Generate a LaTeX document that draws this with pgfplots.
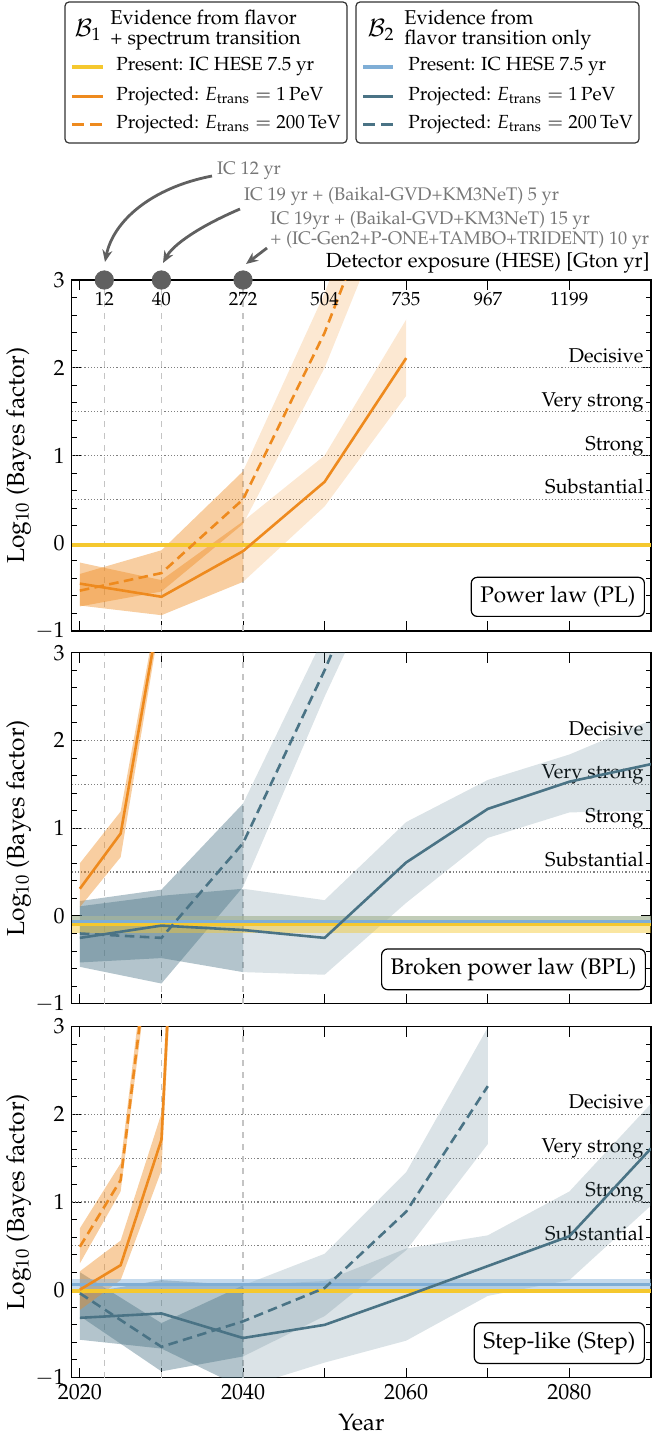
\documentclass[border=0pt]{standalone}
\usepackage[T1]{fontenc}
\usepackage{mathpazo}
\usepackage{pgfplots}
\pgfplotsset{compat=1.18}
\usetikzlibrary{arrows.meta}
\definecolor{orangeC}{HTML}{EE8A1E}
\definecolor{blueC}{HTML}{4A7385}
\definecolor{yellowC}{HTML}{F5C82E}
\definecolor{lblueC}{HTML}{7FAED6}
\definecolor{annC}{HTML}{777777}
\definecolor{circC}{HTML}{606060}
\definecolor{dotC}{HTML}{808080}
\definecolor{vC}{HTML}{C4C4C4}
\newcommand{\legfont}{\fontsize{9.5}{11}\selectfont}
\newcommand{\hdrfont}{\fontsize{10}{12}\selectfont}
\newcommand{\annfont}{\fontsize{9.12}{11}\selectfont}
\newcommand{\evfont}{\fontsize{10}{12}\selectfont}
\tikzset{
  ev/.style={anchor=base east, inner sep=0pt, xshift=-3.5pt, yshift=2.7pt, font=\evfont},
  plab/.style={draw, rounded corners=3pt, fill=white, inner sep=4.5pt, anchor=south east, font=\fontsize{11.3}{13}\selectfont, line width=0.6pt},
}
\pgfplotsset{
  panel/.style={
    width=289.65pt, height=175.5pt, scale only axis,
    xmin=2019, xmax=2090, ymin=-1, ymax=3,
    xtick={2020,2030,...,2090},
    ytick={-1,0,1,2,3},
    minor y tick num=4,
    tick align=inside,
    major tick length=5pt, minor tick length=2.5pt,
    tick style={line width=0.5pt, black},
    tick label style={font=\fontsize{11}{13}\selectfont},
    ylabel={Log$_{10}$ (Bayes factor)},
    ylabel style={font=\fontsize{12.3}{14}\selectfont, at={(axis description cs:-0.0915,0.5)}, anchor=center},
    axis line style={line width=0.6pt},
    clip=true,
  },
  band1/.style={draw=none, fill=#1, fill opacity=0.42},
  band2/.style={draw=none, fill=#1, fill opacity=0.2},
  ln/.style={#1, line width=1.3pt},
  dl/.style={#1, line width=1.3pt, dash pattern=on 4.8pt off 2.7pt},
}
\newcommand{\guides}{%
  \node[ev] at (axis cs:2090,2) {Decisive};
  \node[ev] at (axis cs:2090,1.5) {Very strong};
  \node[ev] at (axis cs:2090,1) {Strong};
  \node[ev] at (axis cs:2090,0.5) {Substantial};
  \addplot[dotC, densely dotted, line width=0.6pt] coordinates {(2019,2)(2090,2)};
  \addplot[dotC, densely dotted, line width=0.6pt] coordinates {(2019,1.5)(2090,1.5)};
  \addplot[dotC, densely dotted, line width=0.6pt] coordinates {(2019,1)(2090,1)};
  \addplot[dotC, densely dotted, line width=0.6pt] coordinates {(2019,0.5)(2090,0.5)};
  \addplot[vC, dashed, line width=0.6pt] coordinates {(2023,-1)(2023,3)};
  \addplot[vC, dashed, line width=0.6pt] coordinates {(2030,-1)(2030,3)};
  \addplot[vC, dashed, line width=0.6pt] coordinates {(2040,-1)(2040,3)};
}
\begin{document}
\begin{tikzpicture}
% ---------------- Panel 1: PL ----------------
\begin{axis}[panel, at={(0pt,0pt)}, anchor=north west, xticklabels={}]
\guides
\addplot[band1=orangeC] coordinates {(2020,-0.22)(2030,-0.42)(2040,0.25)(2040,-0.44)(2030,-0.82)(2020,-0.71)} -- cycle;
\addplot[band2=orangeC] coordinates {(2040,0.25)(2050,1.0)(2060,2.55)(2060,1.68)(2050,0.42)(2040,-0.44)} -- cycle;
\addplot[band1=orangeC] coordinates {(2020,-0.35)(2030,-0.08)(2040,0.82)(2040,0.22)(2030,-0.55)(2020,-0.72)} -- cycle;
\addplot[band2=orangeC] coordinates {(2040,0.82)(2050,2.85)(2060,5.3)(2060,4.3)(2050,2.0)(2040,0.22)} -- cycle;
\addplot[yellowC, line width=2.4pt] coordinates {(2019,-0.02)(2090,-0.02)};
\addplot[ln=orangeC] coordinates {(2020,-0.46)(2030,-0.61)(2040,-0.09)(2050,0.70)(2060,2.11)};
\addplot[dl=orangeC] coordinates {(2020,-0.54)(2030,-0.34)(2040,0.50)(2050,2.4)(2060,4.8)};
\node[plab, xshift=-3pt, yshift=7pt] at (rel axis cs:1,0) {Power law (PL)};
\end{axis}
% overlay for exposure axis
\begin{axis}[width=289.65pt, height=175.5pt, scale only axis, at={(0pt,0pt)}, anchor=north west,
  xmin=2019, xmax=2090, ymin=-1, ymax=3, hide axis, clip=false]
\addplot[only marks, mark=*, mark size=4.6pt, circC] coordinates {(2023,3)(2030,3)(2040,3)};
\node[font=\fontsize{9.5}{11}\selectfont, yshift=-9.5pt] at (axis cs:2023,3) {12};
\node[font=\fontsize{9.5}{11}\selectfont, yshift=-9.5pt] at (axis cs:2030,3) {40};
\node[font=\fontsize{9.5}{11}\selectfont, yshift=-9.5pt] at (axis cs:2040,3) {272};
\node[font=\fontsize{9.5}{11}\selectfont, yshift=-9.5pt] at (axis cs:2050,3) {504};
\node[font=\fontsize{9.5}{11}\selectfont, yshift=-9.5pt] at (axis cs:2060,3) {735};
\node[font=\fontsize{9.5}{11}\selectfont, yshift=-9.5pt] at (axis cs:2070,3) {967};
\node[font=\fontsize{9.5}{11}\selectfont, yshift=-9.5pt] at (axis cs:2080,3) {1199};
\node[anchor=east, inner sep=0pt, font=\fontsize{10.2}{12}\selectfont, yshift=8.5pt, xshift=-0.5pt] at (rel axis cs:1,1) {Detector exposure (HESE) [Gton yr]};
\end{axis}
% ---------------- Panel 2: BPL ----------------
\begin{axis}[panel, at={(0pt,-186.35pt)}, anchor=north west, xticklabels={}]
\guides
\addplot[band1=blueC] coordinates {(2020,0.11)(2030,0.23)(2040,0.31)(2040,-0.64)(2030,-0.48)(2020,-0.53)} -- cycle;
\addplot[band2=blueC] coordinates {(2040,0.31)(2050,0.18)(2060,1.07)(2070,1.55)(2080,1.84)(2090,2.23)(2090,1.20)(2080,1.18)(2070,0.89)(2060,0.15)(2050,-0.67)(2040,-0.64)} -- cycle;
\addplot[band1=blueC] coordinates {(2020,0.17)(2030,0.30)(2040,1.28)(2040,0.33)(2030,-0.77)(2020,-0.58)} -- cycle;
\addplot[band2=blueC] coordinates {(2040,1.28)(2050,3.2)(2060,5.5)(2060,4.5)(2050,2.5)(2040,0.33)} -- cycle;
\addplot[band1=orangeC] coordinates {(2020,0.60)(2025,1.19)(2030,3.75)(2030,3.45)(2025,0.67)(2020,0.10)} -- cycle;
\addplot[draw=none, fill=yellowC, fill opacity=0.45] coordinates {(2019,0.0)(2090,0.0)(2090,-0.19)(2019,-0.19)} -- cycle;
\addplot[draw=none, fill=lblueC, fill opacity=0.45] coordinates {(2019,0.0)(2090,0.0)(2090,-0.10)(2019,-0.10)} -- cycle;
\addplot[yellowC, line width=1.6pt] coordinates {(2019,-0.10)(2090,-0.10)};
\addplot[lblueC, line width=1.6pt] coordinates {(2019,-0.065)(2090,-0.065)};
\addplot[ln=blueC] coordinates {(2020,-0.25)(2030,-0.11)(2040,-0.16)(2050,-0.25)(2060,0.61)(2070,1.22)(2080,1.53)(2090,1.73)};
\addplot[dl=blueC] coordinates {(2020,-0.20)(2030,-0.25)(2040,0.83)(2050,2.8)(2060,5.0)};
\addplot[ln=orangeC] coordinates {(2020,0.31)(2025,0.94)(2030,3.6)};
\node[plab, xshift=-2.5pt, yshift=6.7pt] at (rel axis cs:1,0) {Broken power law (BPL)};
\end{axis}
% ---------------- Panel 3: Step ----------------
\begin{axis}[panel, at={(0pt,-373.25pt)}, anchor=north west,
  xticklabels={2020,{},2040,{},2060,{},2080,{}},
  xlabel={Year},
  xlabel style={font=\fontsize{11.8}{14}\selectfont, at={(axis description cs:0.5,0)}, anchor=center, yshift=-22.7pt}]
\guides
\addplot[band1=blueC] coordinates {(2020,-0.05)(2030,0.11)(2040,0.05)(2040,-1.12)(2030,-0.67)(2020,-0.57)} -- cycle;
\addplot[band2=blueC] coordinates {(2040,0.05)(2050,0.10)(2060,0.47)(2070,0.62)(2080,1.12)(2090,2.12)(2090,0.96)(2080,0.11)(2070,-0.07)(2060,-0.58)(2050,-0.83)(2040,-1.12)} -- cycle;
\addplot[band1=blueC] coordinates {(2020,0.20)(2030,-0.38)(2040,0.05)(2040,-0.76)(2030,-0.93)(2020,-0.30)} -- cycle;
\addplot[band2=blueC] coordinates {(2040,0.05)(2050,0.41)(2060,1.34)(2070,2.99)(2070,1.66)(2060,0.45)(2050,-0.30)(2040,-0.76)} -- cycle;
\addplot[band1=orangeC] coordinates {(2020,0.21)(2025,0.56)(2030,2.01)(2032,5.9)(2032,5.0)(2030,1.36)(2025,0.11)(2020,-0.23)} -- cycle;
\addplot[band1=orangeC] coordinates {(2020,0.70)(2025,1.44)(2030,5.3)(2030,4.8)(2025,1.12)(2020,0.30)} -- cycle;
\addplot[draw=none, fill=lblueC, fill opacity=0.45] coordinates {(2019,0.12)(2090,0.12)(2090,0.01)(2019,0.01)} -- cycle;
\addplot[lblueC, line width=1.6pt] coordinates {(2019,0.06)(2090,0.06)};
\addplot[yellowC, line width=2.2pt] coordinates {(2019,-0.015)(2090,-0.015)};
\addplot[ln=blueC] coordinates {(2020,-0.32)(2030,-0.27)(2040,-0.55)(2050,-0.40)(2060,-0.07)(2070,0.27)(2080,0.61)(2090,1.61)};
\addplot[dl=blueC] coordinates {(2020,-0.04)(2030,-0.65)(2040,-0.36)(2050,0.02)(2060,0.89)(2070,2.32)};
\addplot[ln=orangeC] coordinates {(2020,0.0)(2025,0.28)(2030,1.71)(2032,5.4)};
\addplot[dl=orangeC] coordinates {(2020,0.49)(2025,1.25)(2030,5.05)};
\node[plab, xshift=-3pt, yshift=6.75pt] at (rel axis cs:1,0) {Step-like (Step)};
\end{axis}
% ---------------- legends and annotations (pixel frame) ----------------
\begin{scope}[shift={(-35.85pt,140pt)}, x=0.5pt, y=-0.5pt]
\draw[rounded corners=2pt, line width=0.6pt, black!80] (65,2) rectangle (347,143);
\node[font=\fontsize{12}{14}\selectfont] at (88,30) {$\mathcal{B}_1$};
\node[anchor=west, inner sep=0pt, font=\hdrfont] at (110,17) {Evidence from flavor};
\node[anchor=west, inner sep=0pt, font=\hdrfont] at (110,40) {+ spectrum transition};
\draw[yellowC, line width=2pt] (72,67) -- (103,67);
\draw[orangeC, line width=1.5pt] (72,96) -- (103,96);
\draw[orangeC, line width=1.5pt, dash pattern=on 6pt off 3pt] (72,124) -- (103,124);
\node[anchor=west, inner sep=0pt, font=\legfont] at (116,67) {Present: IC HESE 7.5 yr};
\node[anchor=west, inner sep=0pt, font=\legfont] at (116,96) {Projected: $E_{\mathrm{trans}}=1\,\mathrm{PeV}$};
\node[anchor=west, inner sep=0pt, font=\legfont] at (116,124) {Projected: $E_{\mathrm{trans}}=200\,\mathrm{TeV}$};
\draw[rounded corners=2pt, line width=0.6pt, black!80] (356,2) rectangle (639,143);
\node[font=\fontsize{12}{14}\selectfont] at (381,30) {$\mathcal{B}_2$};
\node[anchor=west, inner sep=0pt, font=\hdrfont] at (404,17) {Evidence from};
\node[anchor=west, inner sep=0pt, font=\hdrfont] at (404,40) {flavor transition only};
\draw[lblueC, line width=2pt] (363,67) -- (393,67);
\draw[blueC, line width=1.5pt] (363,96) -- (393,96);
\draw[blueC, line width=1.5pt, dash pattern=on 6pt off 3pt] (363,124) -- (393,124);
\node[anchor=west, inner sep=0pt, font=\legfont] at (408,67) {Present: IC HESE 7.5 yr};
\node[anchor=west, inner sep=0pt, font=\legfont] at (408,96) {Projected: $E_{\mathrm{trans}}=1\,\mathrm{PeV}$};
\node[anchor=west, inner sep=0pt, font=\legfont] at (408,124) {Projected: $E_{\mathrm{trans}}=200\,\mathrm{TeV}$};
\node[anchor=west, inner sep=0pt, annC, font=\annfont] at (216.7,171) {IC 12 yr};
\node[anchor=west, inner sep=0pt, annC, font=\annfont] at (243.7,196) {IC 19 yr + (Baikal-GVD+KM3NeT) 5 yr};
\node[anchor=west, inner sep=0pt, annC, font=\annfont] at (270,220) {IC 19yr + (Baikal-GVD+KM3NeT) 15 yr};
\node[anchor=west, inner sep=0pt, annC, font=\annfont] at (270,240) {+ (IC-Gen2+P-ONE+TAMBO+TRIDENT) 10 yr};
\draw[circC, line width=1.4pt, -{Stealth[length=6pt,width=5pt]}] (212,176) .. controls (150,188) and (113,222) .. (105,262);
\draw[circC, line width=1.4pt, -{Stealth[length=6pt,width=5pt]}] (240,209) .. controls (198,227) and (173,245) .. (163,263);
\draw[circC, line width=1.4pt, -{Stealth[length=6pt,width=5pt]}] (267,248) -- (246,264);
\end{scope}
\pgfresetboundingbox
\path[use as bounding box] (-35.85pt,140pt) rectangle (290.15pt,-578.5pt);
\end{tikzpicture}
\end{document}
